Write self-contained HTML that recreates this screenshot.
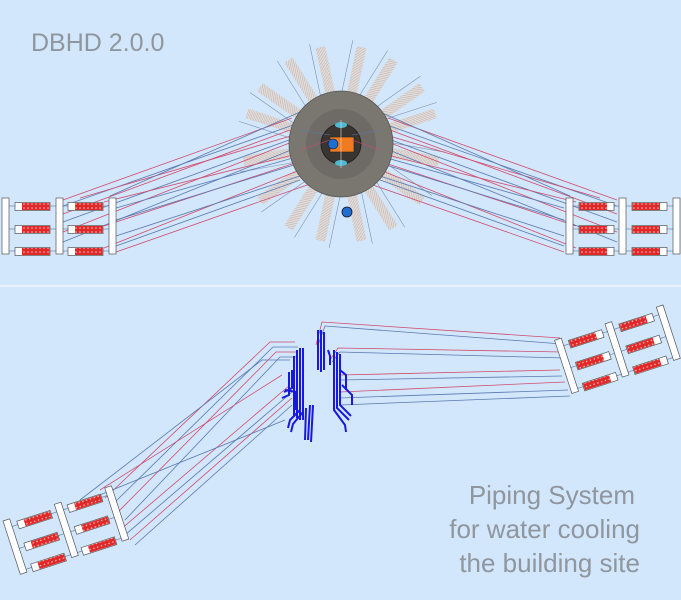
<!DOCTYPE html>
<html><head><meta charset="utf-8"><style>
html,body{margin:0;padding:0;background:#d2e7fc;}
svg{display:block}
text{font-family:"Liberation Sans",sans-serif;fill:#8f969e}
</style></head><body>
<svg width="681" height="600" viewBox="0 0 681 600" xmlns="http://www.w3.org/2000/svg">
<defs>
<pattern id="dots" width="4" height="4" patternUnits="userSpaceOnUse">
<rect width="4" height="4" fill="#e02828"/><circle cx="2" cy="2" r="0.8" fill="#f4c0c0"/>
</pattern>
<pattern id="hatch" width="3" height="3" patternUnits="userSpaceOnUse">
<rect width="3" height="3" fill="#e4dcd8"/><path d="M0 3L3 0" stroke="#b8a8a0" stroke-width="0.6"/>
</pattern>
<g id="rack">
<g stroke="#7090b8" stroke-width="0.8">
<line x1="7" y1="8" x2="108" y2="8"/><line x1="7" y1="31" x2="108" y2="31"/><line x1="7" y1="53" x2="108" y2="53"/>
</g>
<g fill="#fff" stroke="#555" stroke-width="0.7">
<rect x="0" y="0" width="7" height="56"/><rect x="54" y="0" width="7" height="56"/><rect x="107" y="0" width="7" height="56"/>
<rect x="13" y="4.5" width="35" height="8"/><rect x="66" y="4.5" width="35" height="8"/>
<rect x="13" y="27.5" width="35" height="8"/><rect x="66" y="27.5" width="35" height="8"/>
<rect x="13" y="49.5" width="35" height="8"/><rect x="66" y="49.5" width="35" height="8"/>
</g>
<g fill="url(#dots)">
<rect x="20" y="5" width="27.5" height="7"/><rect x="73" y="5" width="27.5" height="7"/>
<rect x="20" y="28" width="27.5" height="7"/><rect x="73" y="28" width="27.5" height="7"/>
<rect x="20" y="50" width="27.5" height="7"/><rect x="73" y="50" width="27.5" height="7"/>
</g>
</g>
<g id="toplines" fill="none" stroke-width="0.8">
<line x1="63" y1="200" x2="292" y2="118" stroke="#d04c6c"/>
<line x1="63" y1="206" x2="296" y2="124" stroke="#5a78b0"/>
<line x1="63" y1="214" x2="290" y2="130" stroke="#d04c6c"/>
<line x1="63" y1="222" x2="300" y2="136" stroke="#5a78b0"/>
<line x1="63" y1="232" x2="292" y2="142" stroke="#d04c6c"/>
<line x1="63" y1="242" x2="296" y2="148" stroke="#5a78b0"/>
<line x1="104" y1="202" x2="305" y2="152" stroke="#d04c6c"/>
<line x1="116" y1="208" x2="300" y2="156" stroke="#5a78b0"/>
<line x1="104" y1="226" x2="298" y2="162" stroke="#d04c6c"/>
<line x1="116" y1="220" x2="310" y2="160" stroke="#5a78b0"/>
<line x1="104" y1="248" x2="300" y2="170" stroke="#d04c6c"/>
<line x1="116" y1="236" x2="306" y2="174" stroke="#5a78b0"/>
<line x1="116" y1="246" x2="300" y2="180" stroke="#5a78b0"/>
<line x1="116" y1="252" x2="310" y2="184" stroke="#d04c6c"/>
<line x1="80" y1="198" x2="318" y2="128" stroke="#d04c6c"/>
<line x1="110" y1="196" x2="300" y2="112" stroke="#5a78b0"/>
</g>
<g id="ray">
<rect x="336" y="45" width="10" height="50" fill="url(#hatch)" opacity="0.9"/>
<line x1="331" y1="40" x2="331" y2="100" stroke="#8090a8" stroke-width="0.6"/>
</g>
</defs>

<text x="31" y="51" font-size="25">DBHD 2.0.0</text>

<g>
<use href="#ray" transform="rotate(-12 341 144)"/><use href="#ray" transform="rotate(12 341 144)"/>
<use href="#ray" transform="rotate(-32 341 144)"/><use href="#ray" transform="rotate(32 341 144)"/>
<use href="#ray" transform="rotate(-55 341 144)"/><use href="#ray" transform="rotate(55 341 144)"/>
<use href="#ray" transform="rotate(-72 341 144)"/><use href="#ray" transform="rotate(72 341 144)"/>
<use href="#ray" transform="rotate(-100 341 144)"/><use href="#ray" transform="rotate(100 341 144)"/>
<use href="#ray" transform="rotate(-125 341 144)"/><use href="#ray" transform="rotate(125 341 144)"/>
<use href="#ray" transform="rotate(-148 341 144)"/><use href="#ray" transform="rotate(148 341 144)"/>
<use href="#ray" transform="rotate(-168 341 144)"/><use href="#ray" transform="rotate(168 341 144)"/>
</g>

<use href="#toplines"/>
<use href="#toplines" transform="translate(680 0) scale(-1 1)"/>

<ellipse cx="341" cy="144" rx="52" ry="53" fill="#7a7770" stroke="#555" stroke-width="0.8"/>
<circle cx="341" cy="144" r="35" fill="#6e6b66"/>
<circle cx="341" cy="144" r="20" fill="#3a3530" stroke="#222"/>
<ellipse cx="341" cy="125" rx="6" ry="3" fill="#50b8d0"/>
<ellipse cx="341" cy="163" rx="6" ry="3" fill="#50b8d0"/>
<rect x="330" y="137" width="24" height="15" fill="#f07a20" stroke="#222" stroke-width="0.6"/>
<circle cx="333" cy="144" r="5" fill="#1f6fd0" stroke="#113" stroke-width="0.6"/>
<line x1="341" y1="120" x2="341" y2="168" stroke="#ddd" stroke-width="0.6"/>
<g stroke-width="0.6" fill="none">
<line x1="300" y1="150" x2="330" y2="140" stroke="#d04c6c"/>
<line x1="380" y1="150" x2="352" y2="140" stroke="#d04c6c"/>
<line x1="300" y1="130" x2="330" y2="135" stroke="#5a78b0"/>
<line x1="382" y1="130" x2="352" y2="135" stroke="#5a78b0"/>
</g>
<circle cx="347" cy="212" r="5" fill="#1f6fd0" stroke="#113" stroke-width="0.8"/>

<use href="#rack" transform="translate(2 198)"/>
<use href="#rack" transform="translate(680 198) scale(-1 1)"/>

<line x1="0" y1="286" x2="681" y2="286" stroke="#eef6ff" stroke-width="1.5"/>

<g fill="none" stroke-width="0.8">
<path d="M105 498 L270 342 L295 342" stroke="#d04c6c"/>
<path d="M112 505 L273 347 L298 347" stroke="#5a78b0"/>
<path d="M118 512 L276 352 L298 352" stroke="#d04c6c"/>
<path d="M125 520 L280 357 L298 357" stroke="#5a78b0"/>
<path d="M80 500 L262 360 L290 360" stroke="#5a78b0"/>
<path d="M120 530 L290 385" stroke="#d04c6c"/>
<path d="M125 535 L292 392" stroke="#5a78b0"/>
<path d="M130 540 L292 398" stroke="#d04c6c"/>
<path d="M135 545 L292 405" stroke="#5a78b0"/>
<path d="M75 505 L285 420" stroke="#5a78b0"/>
<path d="M100 490 L282 375" stroke="#d04c6c"/>
<path d="M316 345 L322 322 L560 338" stroke="#d04c6c"/>
<path d="M318 345 L325 326 L562 344" stroke="#5a78b0"/>
<path d="M330 360 L338 348 L562 352" stroke="#d04c6c"/>
<path d="M332 362 L340 352 L565 358" stroke="#5a78b0"/>
<path d="M340 375 L560 370" stroke="#d04c6c"/>
<path d="M340 380 L562 376" stroke="#5a78b0"/>
<path d="M340 392 L565 382" stroke="#d04c6c"/>
<path d="M340 398 L568 390" stroke="#5a78b0"/>
<path d="M340 405 L570 396" stroke="#5a78b0"/>
</g>

<g stroke="#1818e0" stroke-width="2" fill="none">
<path d="M300 348 L300 420"/><path d="M303 348 L303 420"/><path d="M297 350 L297 418"/><path d="M294 356 L294 416"/>
<path d="M292 370 L292 388 L284 392"/><path d="M289 372 L289 395 L282 398"/>
<path d="M285 390 L296 392 L296 410"/>
<path d="M300 410 L290 420 L288 428"/><path d="M303 412 L293 424 L291 432"/>
<path d="M310 405 L308 440"/><path d="M313 405 L311 442"/><path d="M306 408 L305 440"/>
<path d="M318 330 L318 370"/><path d="M321 330 L321 372"/><path d="M324 332 L324 370"/>
<path d="M328 350 L330 356 L330 365"/>
<path d="M334 350 L334 410 L345 425 L346 432"/><path d="M337 352 L337 408 L349 420"/><path d="M340 354 L340 405 L351 416"/>
<path d="M340 370 L346 375 L346 390"/><path d="M342 385 L352 395 L352 405"/>
</g>

<use href="#rack" transform="translate(3 521) rotate(-18)"/>
<use href="#rack" transform="translate(663 305) rotate(-18) scale(-1 1)"/>

<text x="635" y="504" font-size="26" text-anchor="end">Piping System</text>
<text x="640" y="538" font-size="26" text-anchor="end">for water cooling</text>
<text x="640" y="572" font-size="26" text-anchor="end">the building site</text>
</svg>
</body></html>
